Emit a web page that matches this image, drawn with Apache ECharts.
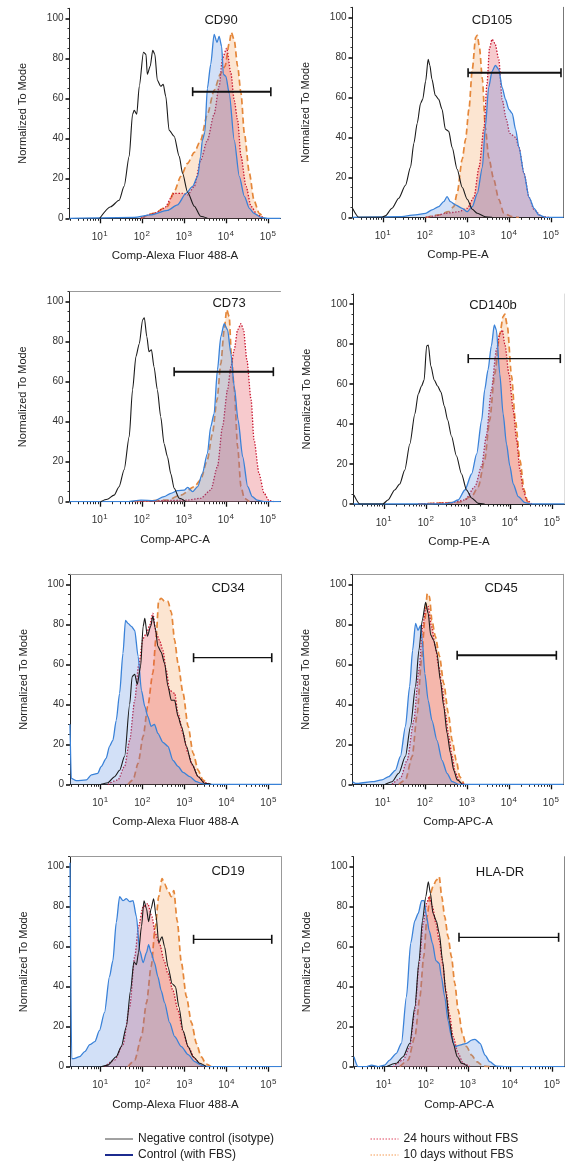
<!DOCTYPE html>
<html><head><meta charset="utf-8">
<script src="https://cdn.jsdelivr.net/npm/echarts@6/dist/echarts.min.js"></script>
<style>html,body{margin:0;padding:0;background:#fff}#c{width:567px;height:1164px}</style>
</head><body><div id="c"></div><script>
// ---------------- DATA ----------------
const panelTitles = ['CD90','CD105','CD73','CD140b','CD34','CD45','CD19','HLA-DR'];
const xAxisNames = ['Comp-Alexa Fluor 488-A','Comp-PE-A','Comp-APC-A','Comp-PE-A','Comp-Alexa Fluor 488-A','Comp-APC-A','Comp-Alexa Fluor 488-A','Comp-APC-A'];
const seriesNames = ['Negative control (isotype)','Control (with FBS)','24 hours without FBS','10 days without FBS'];
const yAxisName = 'Normalized To Mode';
const yTickValues = [0,20,40,60,80,100];
const xDecades = [1,2,3,4,5];   // labels 10^1 ... 10^5 (x values are log10 of intensity)

// CD90
const cd90Neg  = [[1.0,0],[1.26,5.8],[1.46,9],[1.58,16],[1.70,31],[1.78,52],[1.82,54],[1.88,52],[1.94,66],[2.04,83],[2.10,82],[2.13,72],[2.20,76],[2.26,84],[2.31,82],[2.37,69],[2.45,66],[2.51,67],[2.57,61],[2.65,44],[2.77,41],[2.89,31],[2.97,22.5],[3.09,13],[3.25,6],[3.40,1],[3.56,0]];
const cd90Ctrl = [[0.28,0],[1.82,0.5],[2.21,1.7],[2.61,4],[2.85,6.7],[3.05,12.5],[3.21,16],[3.33,21],[3.40,31],[3.44,39],[3.50,43],[3.56,65],[3.64,77],[3.72,92],[3.79,88],[3.84,91],[3.90,86],[3.94,72],[4.00,71],[4.08,62.5],[4.20,39],[4.32,21],[4.44,11],[4.56,5],[4.67,2.5],[4.83,0.5],[4.99,0],[5.3,0]];
const cd90H24  = [[1.98,0],[2.29,2.5],[2.53,5],[2.77,12.5],[2.97,12.5],[3.09,11.7],[3.25,16],[3.40,29],[3.56,39],[3.72,52],[3.84,66],[3.92,80],[4.02,85],[4.12,72.5],[4.20,59],[4.28,49],[4.36,31],[4.48,16],[4.60,6],[4.75,1.7],[4.91,0]];
const cd90D10  = [[1.98,0],[2.29,2.5],[2.61,6],[2.77,13.3],[2.93,21],[3.09,27.5],[3.25,33],[3.40,39],[3.56,52],[3.72,64],[3.88,72.5],[3.98,76],[4.08,87.5],[4.13,93],[4.20,89],[4.28,76],[4.36,62.5],[4.44,42.5],[4.56,22.5],[4.67,9],[4.79,2.5],[4.91,0]];
const cd90Gate = [[3.21,63.3],[5.07,63.3]];

// CD105
const cd105Neg  = [[0.28,4.5],[0.43,0],[0.98,0],[1.06,0.7],[1.22,4.5],[1.38,9.5],[1.54,16],[1.66,25],[1.74,37],[1.82,47],[1.90,57],[1.95,59],[2.02,68],[2.08,79],[2.12,76],[2.17,69],[2.25,61],[2.33,59],[2.41,54],[2.49,44],[2.57,43],[2.65,35],[2.77,24],[2.89,15],[3.01,9],[3.13,4],[3.25,2],[3.44,0.3],[3.60,0]];
const cd105Ctrl = [[0.28,0],[1.38,0.3],[1.78,1.2],[2.02,2],[2.17,3.7],[2.33,5.3],[2.45,7.8],[2.53,10.3],[2.61,7.8],[2.73,6.2],[2.89,4.5],[3.01,2.8],[3.13,5.3],[3.25,12],[3.37,25],[3.44,45],[3.52,65],[3.60,73],[3.68,76],[3.76,74],[3.84,65],[3.92,59],[4.00,54],[4.08,52],[4.16,44],[4.24,35],[4.36,22],[4.48,10],[4.60,4.5],[4.71,1.2],[4.87,0],[5.3,0]];
const cd105H24  = [[2.02,0],[2.25,0.7],[2.49,2],[2.81,2.8],[3.01,4.5],[3.17,10],[3.29,25],[3.41,45],[3.48,67],[3.54,84.5],[3.60,89],[3.67,87],[3.76,79],[3.84,59],[3.94,49],[4.02,42],[4.16,40],[4.24,35],[4.36,22],[4.48,10],[4.60,3.7],[4.79,0.3],[4.95,0]];
const cd105D10  = [[2.02,0],[2.33,1.2],[2.57,2.8],[2.69,5.3],[2.77,12],[2.89,29],[2.97,39],[3.05,54],[3.13,74],[3.21,90],[3.25,91],[3.30,85],[3.37,69],[3.44,45],[3.52,30],[3.64,19],[3.76,9],[3.88,2],[4.08,0.3],[4.24,0]];
const cd105Gate = [[3.03,72.3],[5.24,72.3]];

// CD73
const cd73Neg  = [[1.02,0],[1.18,1.2],[1.34,3.3],[1.46,7.5],[1.58,16],[1.70,32.5],[1.78,56],[1.86,72.5],[1.94,79],[2.02,91],[2.06,92],[2.12,82.5],[2.17,75],[2.23,76],[2.29,67.5],[2.37,56],[2.45,42.5],[2.53,29],[2.61,22.5],[2.69,14],[2.77,6.7],[2.89,1.7],[3.05,0]];
const cd73Ctrl = [[0.28,0],[1.66,0],[1.98,0.8],[2.29,0.5],[2.53,2.5],[2.69,4.2],[2.85,5.5],[3.01,5.8],[3.09,7.2],[3.21,5],[3.33,7.5],[3.44,14],[3.56,24],[3.64,37.5],[3.72,44],[3.80,66],[3.88,82.5],[3.96,89],[4.04,86],[4.12,74],[4.20,57.5],[4.29,41],[4.40,22.5],[4.52,7.5],[4.63,2.5],[4.75,0.8],[4.91,0],[5.3,0]];
const cd73H24  = [[1.82,0],[3.09,0.8],[3.40,1.7],[3.64,5.8],[3.80,17.5],[3.92,37.5],[4.04,56],[4.12,67.5],[4.20,76],[4.28,86],[4.36,89],[4.42,86],[4.50,71],[4.60,51],[4.67,31],[4.79,14],[4.91,4.2],[5.03,0.5],[5.15,0]];
const cd73D10  = [[1.82,0],[2.61,0.8],[2.93,3.3],[3.25,7.5],[3.40,11],[3.56,21],[3.68,34],[3.79,51],[3.88,69],[3.96,86],[4.02,96],[4.08,92.5],[4.13,74],[4.20,56],[4.28,27.5],[4.36,7.5],[4.44,1.7],[4.56,0]];
const cd73Gate = [[2.77,65],[5.13,65]];

// CD140b
const cd140bNeg  = [[0.29,4.5],[0.43,0],[0.98,0],[1.10,2],[1.26,7],[1.38,10],[1.50,17],[1.62,30],[1.74,45],[1.82,55],[1.90,59],[1.96,62],[2.02,79],[2.06,79.5],[2.12,69],[2.20,62],[2.28,59],[2.36,56],[2.44,49],[2.52,42],[2.61,34],[2.73,24],[2.85,15],[2.97,7],[3.09,3],[3.25,0.3],[3.40,0]];
const cd140bCtrl = [[0.28,0],[2.44,0],[2.61,0.7],[2.77,2],[2.93,7],[3.09,15],[3.21,25],[3.33,42],[3.40,57],[3.48,67],[3.56,79],[3.63,89.5],[3.68,87],[3.76,65],[3.84,45],[3.92,30],[4.00,19],[4.08,10],[4.20,3.7],[4.36,0.7],[4.52,0],[5.3,0]];
const cd140bH24  = [[1.82,0],[2.61,0.7],[2.93,2],[3.17,8.7],[3.33,19],[3.44,34],[3.56,57],[3.68,77],[3.76,85],[3.82,87],[3.88,80],[3.98,65],[4.08,47],[4.16,32],[4.24,17],[4.32,7],[4.40,2],[4.52,0]];
const cd140bD10  = [[1.82,0],[2.77,0.7],[3.09,3.7],[3.25,8.7],[3.40,22],[3.52,42],[3.64,65],[3.76,85],[3.84,93.7],[3.88,95],[3.94,89],[4.04,64],[4.13,42],[4.24,22],[4.34,7],[4.42,1.2],[4.52,0]];
const cd140bGate = [[3.01,72.7],[5.20,72.7]];

// CD34
const cd34Neg  = [[1.02,0],[1.18,0.8],[1.34,3.8],[1.46,7],[1.58,14],[1.70,40],[1.76,54],[1.82,55],[1.88,50],[1.96,59],[2.02,79],[2.06,83],[2.12,74],[2.20,79],[2.25,84],[2.31,78],[2.37,69],[2.45,66],[2.53,60.5],[2.61,49],[2.69,42],[2.77,42],[2.85,34],[2.93,29],[3.05,19],[3.17,10.5],[3.33,3.8],[3.48,0.5],[3.64,0]];
const cd34Ctrl = [[0.28,30],[0.31,3],[0.43,1.8],[0.67,2.2],[0.79,4.7],[0.94,5.5],[1.02,8.8],[1.14,13],[1.22,19],[1.30,22],[1.38,32],[1.46,45.5],[1.54,65.5],[1.60,82],[1.66,80.5],[1.74,79],[1.82,77],[1.90,64],[1.98,47],[2.06,39],[2.13,34],[2.21,29],[2.29,30],[2.37,25.5],[2.49,21],[2.61,19],[2.73,12],[2.85,9],[2.97,6],[3.13,3.8],[3.29,1.3],[3.40,0.5],[3.56,0],[5.3,0]];
const cd34H24  = [[1.18,0],[1.42,2.2],[1.58,9],[1.70,22],[1.82,42],[1.91,59],[2.02,73],[2.10,75.5],[2.17,79],[2.25,85.5],[2.33,75.5],[2.41,72],[2.49,67],[2.57,57],[2.65,47],[2.77,45.5],[2.85,35.5],[2.97,25.5],[3.09,15.5],[3.21,9],[3.33,3.8],[3.48,0.8],[3.64,0]];
const cd34D10  = [[1.66,0],[1.78,2.2],[1.90,10.5],[2.02,24],[2.13,39],[2.25,55.5],[2.33,74],[2.39,92],[2.45,93],[2.53,91.5],[2.61,91.5],[2.69,86],[2.77,72],[2.85,60.5],[2.97,45.5],[3.09,29],[3.21,15.5],[3.33,7],[3.44,2.2],[3.56,0]];
const cd34Gate = [[3.22,63.3],[5.08,63.3]];

// CD45
const cd45Neg  = [[1.06,0],[1.22,1.3],[1.38,5.5],[1.54,14],[1.66,29],[1.78,49],[1.86,67],[1.94,82],[2.02,91],[2.08,85.5],[2.14,74.7],[2.21,72],[2.29,65.5],[2.37,52],[2.45,39],[2.53,25.5],[2.61,15.5],[2.69,7],[2.77,2.2],[2.89,0]];
const cd45Ctrl = [[0.28,1.3],[0.35,0.5],[0.43,0.5],[0.75,1.3],[0.98,2.2],[1.14,3.8],[1.30,7],[1.42,14],[1.54,29],[1.64,49],[1.71,67],[1.78,80.5],[1.84,77],[1.90,79.5],[1.94,72],[2.00,55.5],[2.08,42],[2.17,32],[2.29,22],[2.41,12],[2.53,5.5],[2.65,1.3],[2.81,0],[5.3,0]];
const cd45H24  = [[1.22,0],[1.42,3],[1.58,12],[1.74,32],[1.86,57],[1.95,79],[2.02,88],[2.08,89],[2.16,79],[2.25,69],[2.33,59],[2.41,49],[2.49,35.5],[2.57,24],[2.65,14],[2.73,5.5],[2.85,0.8],[2.97,0]];
const cd45D10  = [[1.38,0],[1.54,2.2],[1.70,14],[1.82,35.5],[1.92,62],[2.00,82],[2.06,95.5],[2.11,94],[2.17,82],[2.25,74],[2.35,64],[2.45,50.5],[2.56,35.5],[2.65,22],[2.75,12],[2.83,3.8],[2.93,0]];
const cd45Gate = [[2.77,64.5],[5.13,64.5]];

// CD19
const cd19Neg  = [[1.02,0],[1.18,0.8],[1.38,5],[1.50,10],[1.62,20],[1.72,38],[1.80,52.5],[1.86,51],[1.91,57],[1.98,70],[2.04,83],[2.10,79],[2.15,72.5],[2.21,79],[2.27,84],[2.33,75],[2.39,62],[2.47,65],[2.53,60],[2.61,50],[2.71,41.5],[2.79,40],[2.87,30],[2.97,18],[3.09,10],[3.21,5],[3.37,1.7],[3.52,0]];
const cd19Ctrl = [[0.28,102],[0.32,4],[0.37,4],[0.51,5],[0.63,7.5],[0.75,11],[0.87,12.5],[0.98,18],[1.10,27],[1.22,45],[1.30,53],[1.38,72],[1.46,85],[1.54,83],[1.62,84],[1.70,82.5],[1.78,83],[1.86,75],[1.94,58],[2.02,52],[2.10,57],[2.15,61],[2.21,57],[2.29,52],[2.37,45],[2.45,38],[2.53,32],[2.65,22],[2.77,15],[2.93,10],[3.09,6],[3.25,2.5],[3.40,0.8],[3.56,0],[5.3,0]];
const cd19H24  = [[1.10,0],[1.34,3.3],[1.54,11],[1.70,30],[1.82,55],[1.91,70],[2.02,80],[2.13,81.5],[2.23,75],[2.31,66.5],[2.41,61.5],[2.52,53],[2.61,46.5],[2.73,38],[2.85,28],[2.97,17.5],[3.09,10],[3.25,4],[3.40,0.8],[3.56,0]];
const cd19D10  = [[1.66,0],[1.82,3.3],[1.98,15],[2.10,32],[2.21,50],[2.31,70],[2.39,85],[2.47,94],[2.53,91.5],[2.61,88],[2.69,85],[2.75,88],[2.83,73],[2.93,52],[3.05,35],[3.17,22],[3.29,11.5],[3.40,5],[3.52,1.3],[3.64,0]];
const cd19Gate = [[3.22,63.7],[5.08,63.7]];

// HLA-DR
const hladrNeg  = [[1.06,0],[1.30,1.7],[1.46,5],[1.62,11.7],[1.74,30],[1.84,53],[1.92,73],[2.00,85],[2.06,92.5],[2.11,86.7],[2.17,76.7],[2.25,73],[2.32,66.7],[2.40,53],[2.48,36.7],[2.56,23],[2.65,11.7],[2.75,5],[2.85,1.7],[3.01,0]];
const hladrCtrl = [[0.29,5],[0.39,0],[0.59,0],[0.71,0.8],[0.87,0],[1.02,0.8],[1.14,3.3],[1.30,6.7],[1.42,11.7],[1.54,35],[1.64,61.7],[1.74,73],[1.82,76.7],[1.90,83],[1.96,83],[2.02,75],[2.08,68],[2.16,61.7],[2.24,53],[2.32,51.7],[2.37,45],[2.45,35],[2.53,23],[2.61,15],[2.69,10],[2.81,10.8],[2.97,11.7],[3.09,13.3],[3.17,13.7],[3.29,11.7],[3.41,5.8],[3.52,2.5],[3.68,0.3],[3.92,0],[5.3,0]];
const hladrH24  = [[1.22,0],[1.46,3.3],[1.62,10],[1.74,28],[1.84,51.7],[1.94,71.7],[2.02,81.7],[2.08,85],[2.16,80],[2.24,71.7],[2.32,63.3],[2.40,51.7],[2.48,38.3],[2.56,26.7],[2.65,15],[2.77,6.7],[2.89,1.7],[3.05,0]];
const hladrD10  = [[1.38,0],[1.58,3.3],[1.74,15],[1.86,35],[1.95,55],[2.03,75],[2.11,86.7],[2.17,90],[2.25,93.3],[2.32,95],[2.38,85],[2.45,75],[2.53,65],[2.61,55],[2.69,41.7],[2.77,28.3],[2.87,16.7],[2.97,10],[3.09,5.8],[3.21,2.5],[3.37,0.3],[3.52,0]];
const hladrGate = [[2.79,64.7],[5.16,64.7]];

const panelData = [
  [cd90Neg, cd90Ctrl, cd90H24, cd90D10, cd90Gate],
  [cd105Neg, cd105Ctrl, cd105H24, cd105D10, cd105Gate],
  [cd73Neg, cd73Ctrl, cd73H24, cd73D10, cd73Gate],
  [cd140bNeg, cd140bCtrl, cd140bH24, cd140bD10, cd140bGate],
  [cd34Neg, cd34Ctrl, cd34H24, cd34D10, cd34Gate],
  [cd45Neg, cd45Ctrl, cd45H24, cd45D10, cd45Gate],
  [cd19Neg, cd19Ctrl, cd19H24, cd19D10, cd19Gate],
  [hladrNeg, hladrCtrl, hladrH24, hladrD10, hladrGate]
];

// ---------------- LAYOUT / STYLE ----------------
const FONT = '"Liberation Sans", Arial, sans-serif';
const xMin = 0.28, xMax = 5.3, yMin = 0, yMax = 105;
const gridLeft = [69.5, 352.5, 69.5, 353.5, 70, 352.5, 70, 353.5];
const gridTop  = [8.3, 7.3, 291.7, 294, 574.3, 574.3, 856.7, 856.7];
const gridW = 211, gridH = 210;
const titleX = [221, 492, 229, 493, 228, 501, 228, 500];
const titleY = [20, 20, 303, 305, 588, 588, 871, 872];
const topBorder   = [0,0,1,0,1,1,1,0];
const rightBorder = [0,1,0,1,1,1,1,1];
const borderColor = ['#888','#777','#999','#ddd','#999','#999','#999','#888'];
const gateWidth = [2,2,2,1.3,1.3,2,1.3,1.3];

const xMinorTicks = [];
for (let n = 0; n <= 5; n++) for (let k = 2; k <= 9; k++) {
  const v = n + Math.log10(k);
  if (v > xMin && v < xMax) xMinorTicks.push(v);
}
const yMinorTicks = [];
for (let v = 5; v <= 105; v += 5) if (v % 20 !== 0) yMinorTicks.push(v);

const styles = [
  {color:'#1a1a1a', width:1.1, type:'solid', fill:null, z:5},
  {color:'#3a82d8', width:1.3, type:'solid', fill:'rgba(86,138,224,0.38)', z:4},
  {color:'#c8142e', width:1.3, type:[1.4,1.6], fill:'rgba(228,66,74,0.40)', z:3},
  {color:'#e5873a', width:1.7, type:[6,3.5], fill:'rgba(245,152,72,0.36)', z:2}
];

const grid = [], xAxis = [], yAxis = [], series = [], graphic = [];
panelTitles.forEach((title, i) => {
  grid.push({left: gridLeft[i], top: gridTop[i], width: gridW, height: gridH});
  const xi = xAxis.length;
  xAxis.push({
    gridIndex: i, type: 'value', min: xMin, max: xMax, position: 'bottom',
    name: xAxisNames[i], nameLocation: 'middle', nameGap: 32,
    nameTextStyle: {fontSize: 11.5, color: '#222', fontFamily: FONT},
    axisLine: {show: true, onZero: false, lineStyle: {color: '#222', width: 1}},
    axisTick: {show: true, customValues: xDecades, length: 5, lineStyle: {color: '#111', width: 1.3}},
    axisLabel: {customValues: xDecades, margin: 11,
      formatter: v => '{b|10}{s|' + v + '}',
      rich: {b: {fontSize: 10, color: '#333', fontFamily: FONT},
             s: {fontSize: 8, color: '#333', fontFamily: FONT, verticalAlign: 'top', padding: [0, 0, 8, 0.5]}}},
    splitLine: {show: false}
  });
  xAxis.push({
    gridIndex: i, type: 'value', min: xMin, max: xMax, position: 'bottom',
    axisLine: {show: false}, axisLabel: {show: false}, splitLine: {show: false},
    axisTick: {show: true, customValues: xMinorTicks, length: 2.5, lineStyle: {color: '#222', width: 1}}
  });
  if (topBorder[i]) xAxis.push({
    gridIndex: i, type: 'value', min: xMin, max: xMax, position: 'top',
    axisLine: {show: true, onZero: false, lineStyle: {color: borderColor[i], width: 1}},
    axisTick: {show: false}, axisLabel: {show: false}, splitLine: {show: false}
  });
  const yi = yAxis.length;
  yAxis.push({
    gridIndex: i, type: 'value', min: yMin, max: yMax, position: 'left',
    name: yAxisName, nameLocation: 'middle', nameGap: 41,
    nameTextStyle: {fontSize: 11, color: '#222', fontFamily: FONT},
    axisLine: {show: true, onZero: false, lineStyle: {color: '#222', width: 1}},
    axisTick: {show: true, customValues: yTickValues, length: 4, lineStyle: {color: '#111', width: 1.6}},
    axisLabel: {customValues: yTickValues, fontSize: 10, color: '#333', margin: 6, fontFamily: FONT},
    splitLine: {show: false}
  });
  yAxis.push({
    gridIndex: i, type: 'value', min: yMin, max: yMax, position: 'left',
    axisLine: {show: false}, axisLabel: {show: false}, splitLine: {show: false},
    axisTick: {show: true, customValues: yMinorTicks, length: 2, lineStyle: {color: '#333', width: 1}}
  });
  if (rightBorder[i]) yAxis.push({
    gridIndex: i, type: 'value', min: yMin, max: yMax, position: 'right',
    axisLine: {show: true, onZero: false, lineStyle: {color: borderColor[i], width: 1}},
    axisTick: {show: false}, axisLabel: {show: false}, splitLine: {show: false}
  });
  const d = panelData[i];
  for (let s = 3; s >= 0; s--) {
    const st = styles[s];
    const ser = {
      type: 'line', name: seriesNames[s], xAxisIndex: xi, yAxisIndex: yi,
      data: d[s], symbol: 'none', smooth: 0.25, smoothMonotone: 'x', silent: true,
      lineStyle: {color: st.color, width: st.width, type: st.type},
      itemStyle: {color: st.color}, z: st.z
    };
    if (st.fill) ser.areaStyle = {color: st.fill, origin: 'start'};
    series.push(ser);
  }
  series.push({
    type: 'line', name: 'gate', xAxisIndex: xi, yAxisIndex: yi, data: d[4], silent: true,
    symbol: 'rect', symbolSize: [1.6, 9], itemStyle: {color: '#111'},
    lineStyle: {color: '#111', width: gateWidth[i]}, z: 6
  });
  graphic.push({type: 'text', x: titleX[i], y: titleY[i], silent: true,
    style: {text: title, font: '13px ' + FONT, fill: '#1a1a1a', textAlign: 'center', textVerticalAlign: 'middle'}});
});

const legendLine = (name, color, width, type) => ({
  name: name,
  itemStyle: {opacity: 0},
  lineStyle: {color: color, width: width, type: type, opacity: 1}
});
const legendCommon = {orient: 'vertical', itemWidth: 28, itemHeight: 12, itemGap: 4, padding: 0,
  height: 40, selectedMode: false, textStyle: {fontSize: 12, color: '#222', fontFamily: FONT}};
const option = {
  animation: false,
  textStyle: {fontFamily: FONT},
  grid, xAxis, yAxis, series, graphic,
  legend: [
    Object.assign({left: 104, top: 1133, data: [
      legendLine(seriesNames[0], '#444', 1, 'solid'),
      legendLine(seriesNames[1], '#1c2b8f', 2, 'solid')
    ]}, legendCommon),
    Object.assign({left: 370, top: 1133, data: [
      legendLine(seriesNames[2], '#e0455e', 1, [1.5, 1.5]),
      legendLine(seriesNames[3], '#f59a50', 1, [1.5, 1.5])
    ]}, legendCommon)
  ]
};
const chart = echarts.init(document.getElementById('c'), null, {renderer: 'canvas'});
chart.setOption(option);
</script></body></html>
